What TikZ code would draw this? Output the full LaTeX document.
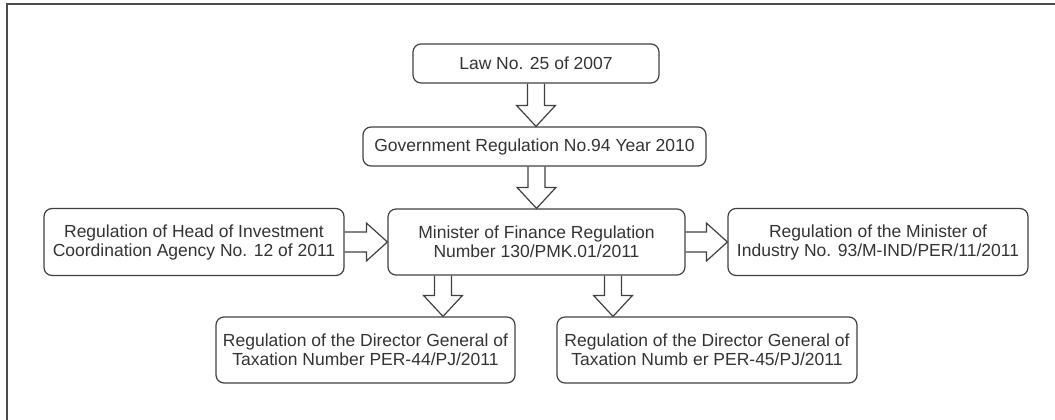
\documentclass[tikz,border=0pt]{standalone}
\usepackage{fontspec}
\setmainfont{Liberation Sans}
\usetikzlibrary{calc}
\newcommand\vblk[2]{%
  \draw[blk] let \p1=(#1), \p2=(#2) in
    (\x1-8.5pt,\y1) -- (\x1-8.5pt,\y2+21pt) -- (\x1-19.5pt,\y2+21pt) -- (\x1,\y2)
    -- (\x1+19.5pt,\y2+21pt) -- (\x1+8.5pt,\y2+21pt) -- (\x1+8.5pt,\y1);}
\newcommand\hblk[2]{%
  \draw[blk] let \p1=(#1), \p2=(#2) in
    (\x1,\y1+10pt) -- (\x2-21pt,\y1+10pt) -- (\x2-21pt,\y1+19pt) -- (\x2,\y1)
    -- (\x2-21pt,\y1-19pt) -- (\x2-21pt,\y1-10pt) -- (\x1,\y1-10pt);}
\begin{document}
\begin{tikzpicture}[x=1pt,y=-1pt,
  box/.style={draw=black!75, line width=1.2pt, rounded corners=8pt, inner sep=0pt,
    align=center, font=\fontsize{17.5}{19}\selectfont, text=black!80},
  blk/.style={draw=black!75, line width=1.2pt, line join=miter}]
\useasboundingbox (0,0) rectangle (1055,420);
\draw[line width=1.5pt, black!70] (7,420) -- (7,4) -- (1055,4);

\node[box, minimum width=246pt, minimum height=39pt] (law) at (536,63.5) {Law No. 25 of 2007};
\node[box, minimum width=343pt, minimum height=39pt] (gov) at (534.5,146.5) {Government Regulation No.94 Year 2010};
\node[box, minimum width=297pt, minimum height=66pt] (min) at (536.5,242) {Minister of Finance Regulation\\Number 130/PMK.01/2011};
\node[box, minimum width=300pt, minimum height=67pt] (left) at (194,242) {Regulation of Head of Investment\\Coordination Agency No. 12 of 2011};
\node[box, minimum width=300pt, minimum height=67pt] (right) at (878,242) {Regulation of the Minister of\\Industry No. 93/M-IND/PER/11/2011};
\node[box, minimum width=299pt, minimum height=66pt] (bl) at (365.5,350) {Regulation of the Director General of\\Taxation Number PER-44/PJ/2011};
\node[box, minimum width=300pt, minimum height=66pt] (br) at (707,350) {Regulation of the Director General of\\Taxation Numb er PER-45/PJ/2011};

\coordinate (a0) at (law.south);
\vblk{a0}{a0 |- gov.north}
\coordinate (b0) at ($(gov.south)+(2,0)$);
\vblk{b0}{b0 |- min.north}
\hblk{left.east}{min.west}
\hblk{min.east}{right.west}
\coordinate (c1) at ($(min.south)+(-93.5,0)$);
\vblk{c1}{c1 |- bl.north}
\coordinate (c2) at ($(min.south)+(76.5,0)$);
\vblk{c2}{c2 |- br.north}
\end{tikzpicture}
\end{document}
